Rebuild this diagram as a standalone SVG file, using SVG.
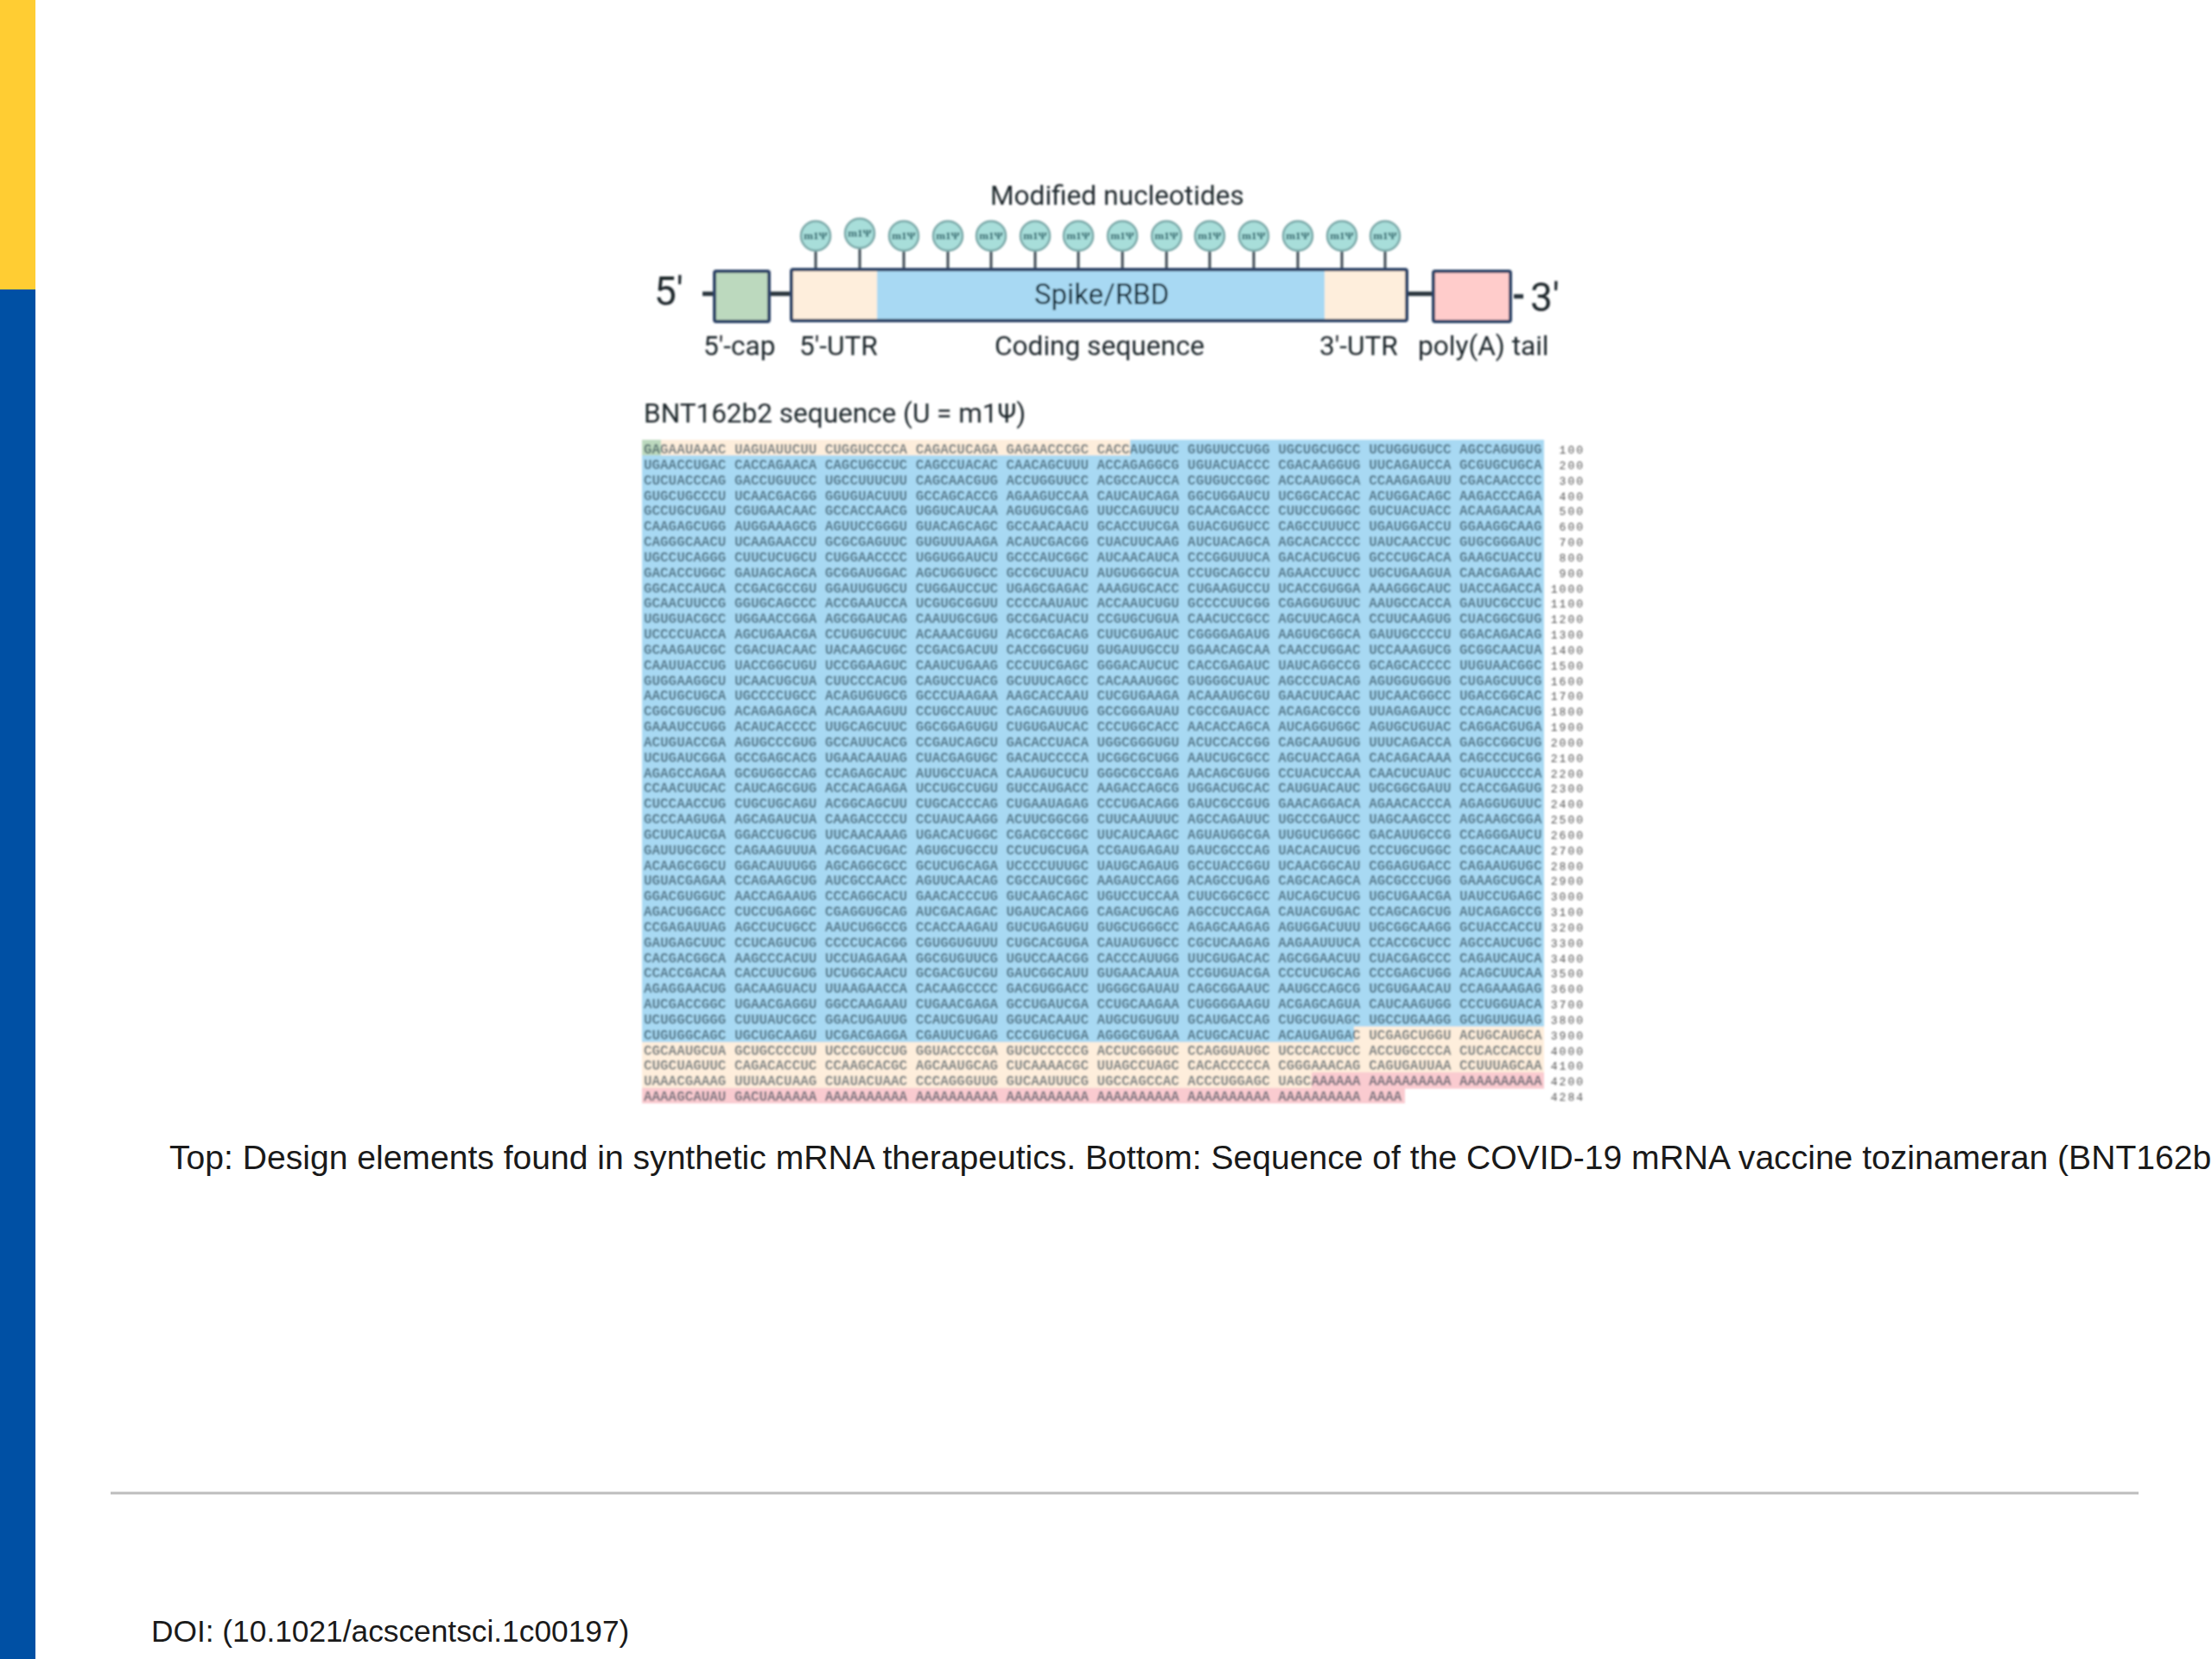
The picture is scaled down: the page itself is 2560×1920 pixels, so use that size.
<svg xmlns="http://www.w3.org/2000/svg" width="2560" height="1920" viewBox="0 0 2560 1920">
<defs><filter id="soft" x="-2%" y="-2%" width="104%" height="104%"><feGaussianBlur stdDeviation="0.85"/></filter><filter id="soft2" x="-2%" y="-2%" width="104%" height="104%"><feGaussianBlur stdDeviation="0.8"/></filter></defs>
<style>
.r{font-family:Roboto,"Liberation Sans",sans-serif;fill:#1f262c}
.l{font-size:31.6px}
.c{font-family:"Liberation Sans",Arial,sans-serif;fill:#1a1a1a;font-size:39.1px}
.s{font-family:"Liberation Mono","Courier New",monospace;font-size:15.9px;font-weight:bold;fill:#16303f;fill-opacity:.6}
.n{font-family:"Liberation Mono",monospace;font-size:13px;fill:#555;text-anchor:end;letter-spacing:2px}
.stem{stroke:#3c4a55;stroke-width:3}
.b{fill:#A8DEDA;stroke:#7aa8a8;stroke-width:2.5}
.m{font-family:"Liberation Serif",serif;font-size:13px;fill:#1f5a62;text-anchor:middle;font-weight:bold}
.box{stroke:#2f4468;stroke-width:4}
.w{stroke:#26303a;stroke-width:5}
</style>
<rect width="2560" height="1920" fill="#fff"/>
<rect id="bar-yellow" x="0" y="0" width="41" height="335" fill="#FFCD33"/>
<rect id="bar-blue" x="0" y="335" width="41" height="1585" fill="#0050A4"/>
<g id="design" filter="url(#soft2)">
<text class="r" x="1146" y="237" font-size="31.6">Modified nucleotides</text>
<g id="connectors">
<line class="w" x1="813" y1="340" x2="827" y2="340"/><line class="w" x1="890" y1="340" x2="916" y2="340"/><line class="w" x1="1628" y1="340" x2="1659" y2="340"/><line class="w" x1="1752" y1="343" x2="1763" y2="343"/>
<g class="stem"><line x1="944" y1="290" x2="944" y2="312"/><line x1="995" y1="287" x2="995" y2="312"/><line x1="1046" y1="290" x2="1046" y2="312"/><line x1="1097" y1="290" x2="1097" y2="312"/><line x1="1147" y1="290" x2="1147" y2="312"/><line x1="1198" y1="290" x2="1198" y2="312"/><line x1="1248" y1="290" x2="1248" y2="312"/><line x1="1299" y1="290" x2="1299" y2="312"/><line x1="1350" y1="290" x2="1350" y2="312"/><line x1="1400" y1="290" x2="1400" y2="312"/><line x1="1451" y1="290" x2="1451" y2="312"/><line x1="1502" y1="290" x2="1502" y2="312"/><line x1="1553" y1="290" x2="1553" y2="312"/><line x1="1603" y1="290" x2="1603" y2="312"/></g>
</g>
<g id="mods">
<g><circle class="b" cx="944" cy="273" r="17"/><text class="m" x="944" y="277">m1Ψ</text></g>
<g><circle class="b" cx="995" cy="270" r="17"/><text class="m" x="995" y="274">m1Ψ</text></g>
<g><circle class="b" cx="1046" cy="273" r="17"/><text class="m" x="1046" y="277">m1Ψ</text></g>
<g><circle class="b" cx="1097" cy="273" r="17"/><text class="m" x="1097" y="277">m1Ψ</text></g>
<g><circle class="b" cx="1147" cy="273" r="17"/><text class="m" x="1147" y="277">m1Ψ</text></g>
<g><circle class="b" cx="1198" cy="273" r="17"/><text class="m" x="1198" y="277">m1Ψ</text></g>
<g><circle class="b" cx="1248" cy="273" r="17"/><text class="m" x="1248" y="277">m1Ψ</text></g>
<g><circle class="b" cx="1299" cy="273" r="17"/><text class="m" x="1299" y="277">m1Ψ</text></g>
<g><circle class="b" cx="1350" cy="273" r="17"/><text class="m" x="1350" y="277">m1Ψ</text></g>
<g><circle class="b" cx="1400" cy="273" r="17"/><text class="m" x="1400" y="277">m1Ψ</text></g>
<g><circle class="b" cx="1451" cy="273" r="17"/><text class="m" x="1451" y="277">m1Ψ</text></g>
<g><circle class="b" cx="1502" cy="273" r="17"/><text class="m" x="1502" y="277">m1Ψ</text></g>
<g><circle class="b" cx="1553" cy="273" r="17"/><text class="m" x="1553" y="277">m1Ψ</text></g>
<g><circle class="b" cx="1603" cy="273" r="17"/><text class="m" x="1603" y="277">m1Ψ</text></g>
</g>
<g id="cap"><rect class="box" x="827" y="314" width="63" height="58" rx="2" fill="#BCD9BE"/></g>
<g id="tail"><rect class="box" x="1659" y="314" width="89" height="58" rx="2" fill="#FFCCCB"/></g>
<g id="mrna-bar">
<rect x="916" y="312" width="99" height="59" fill="#FEEEDC"/><rect x="1015" y="312" width="518" height="59" fill="#A8D9F3"/><rect x="1533" y="312" width="95" height="59" fill="#FEEEDC"/>
<rect class="box" x="916" y="312" width="712" height="59" rx="2" fill="none"/>
<text class="r" x="1197" y="352" font-size="33" style="fill:#06202f">Spike/RBD</text>
</g>
<text class="r" x="757" y="353" font-size="46">5'</text>
<text class="r" x="1771" y="360" font-size="46">3'</text>
<text class="r l" x="814" y="411">5'-cap</text>
<text class="r l" x="925" y="411">5'-UTR</text>
<text class="r l" x="1151" y="411">Coding sequence</text>
<text class="r l" x="1527" y="411">3'-UTR</text>
<text class="r l" x="1641" y="411">poly(A) tail</text>
<text class="r" x="745" y="489" font-size="31.5">BNT162b2 sequence (U = m1Ψ)</text>
</g>
<g id="sequence" filter="url(#soft)">
<rect x="743" y="509" width="565" height="18" fill="#FEEEDC"/><rect x="743" y="509" width="22" height="18" fill="#BCD9BE"/>
<rect x="1308" y="509" width="479" height="18" fill="#A8D9F3"/>
<rect x="743" y="527" width="1044" height="679" fill="#A8D9F3"/>
<rect x="743" y="1197" width="824" height="9" fill="#A8D9F3"/>
<rect x="1567" y="1188" width="220" height="18" fill="#FEEEDC"/>
<rect x="743" y="1206" width="1044" height="54" fill="#FEEEDC"/>
<rect x="1518" y="1241" width="269" height="19" fill="#FACBD0"/>
<rect x="743" y="1259" width="883" height="18" fill="#FACBD0"/>
<g class="s">
<text x="745" y="525">GAGAAUAAAC UAGUAUUCUU CUGGUCCCCA CAGACUCAGA GAGAACCCGC CACCAUGUUC GUGUUCCUGG UGCUGCUGCC UCUGGUGUCC AGCCAGUGUG</text>
<text x="745" y="543">UGAACCUGAC CACCAGAACA CAGCUGCCUC CAGCCUACAC CAACAGCUUU ACCAGAGGCG UGUACUACCC CGACAAGGUG UUCAGAUCCA GCGUGCUGCA</text>
<text x="745" y="561">CUCUACCCAG GACCUGUUCC UGCCUUUCUU CAGCAACGUG ACCUGGUUCC ACGCCAUCCA CGUGUCCGGC ACCAAUGGCA CCAAGAGAUU CGACAACCCC</text>
<text x="745" y="579">GUGCUGCCCU UCAACGACGG GGUGUACUUU GCCAGCACCG AGAAGUCCAA CAUCAUCAGA GGCUGGAUCU UCGGCACCAC ACUGGACAGC AAGACCCAGA</text>
<text x="745" y="596">GCCUGCUGAU CGUGAACAAC GCCACCAACG UGGUCAUCAA AGUGUGCGAG UUCCAGUUCU GCAACGACCC CUUCCUGGGC GUCUACUACC ACAAGAACAA</text>
<text x="745" y="614">CAAGAGCUGG AUGGAAAGCG AGUUCCGGGU GUACAGCAGC GCCAACAACU GCACCUUCGA GUACGUGUCC CAGCCUUUCC UGAUGGACCU GGAAGGCAAG</text>
<text x="745" y="632">CAGGGCAACU UCAAGAACCU GCGCGAGUUC GUGUUUAAGA ACAUCGACGG CUACUUCAAG AUCUACAGCA AGCACACCCC UAUCAACCUC GUGCGGGAUC</text>
<text x="745" y="650">UGCCUCAGGG CUUCUCUGCU CUGGAACCCC UGGUGGAUCU GCCCAUCGGC AUCAACAUCA CCCGGUUUCA GACACUGCUG GCCCUGCACA GAAGCUACCU</text>
<text x="745" y="668">GACACCUGGC GAUAGCAGCA GCGGAUGGAC AGCUGGUGCC GCCGCUUACU AUGUGGGCUA CCUGCAGCCU AGAACCUUCC UGCUGAAGUA CAACGAGAAC</text>
<text x="745" y="686">GGCACCAUCA CCGACGCCGU GGAUUGUGCU CUGGAUCCUC UGAGCGAGAC AAAGUGCACC CUGAAGUCCU UCACCGUGGA AAAGGGCAUC UACCAGACCA</text>
<text x="745" y="703">GCAACUUCCG GGUGCAGCCC ACCGAAUCCA UCGUGCGGUU CCCCAAUAUC ACCAAUCUGU GCCCCUUCGG CGAGGUGUUC AAUGCCACCA GAUUCGCCUC</text>
<text x="745" y="721">UGUGUACGCC UGGAACCGGA AGCGGAUCAG CAAUUGCGUG GCCGACUACU CCGUGCUGUA CAACUCCGCC AGCUUCAGCA CCUUCAAGUG CUACGGCGUG</text>
<text x="745" y="739">UCCCCUACCA AGCUGAACGA CCUGUGCUUC ACAAACGUGU ACGCCGACAG CUUCGUGAUC CGGGGAGAUG AAGUGCGGCA GAUUGCCCCU GGACAGACAG</text>
<text x="745" y="757">GCAAGAUCGC CGACUACAAC UACAAGCUGC CCGACGACUU CACCGGCUGU GUGAUUGCCU GGAACAGCAA CAACCUGGAC UCCAAAGUCG GCGGCAACUA</text>
<text x="745" y="775">CAAUUACCUG UACCGGCUGU UCCGGAAGUC CAAUCUGAAG CCCUUCGAGC GGGACAUCUC CACCGAGAUC UAUCAGGCCG GCAGCACCCC UUGUAACGGC</text>
<text x="745" y="793">GUGGAAGGCU UCAACUGCUA CUUCCCACUG CAGUCCUACG GCUUUCAGCC CACAAAUGGC GUGGGCUAUC AGCCCUACAG AGUGGUGGUG CUGAGCUUCG</text>
<text x="745" y="810">AACUGCUGCA UGCCCCUGCC ACAGUGUGCG GCCCUAAGAA AAGCACCAAU CUCGUGAAGA ACAAAUGCGU GAACUUCAAC UUCAACGGCC UGACCGGCAC</text>
<text x="745" y="828">CGGCGUGCUG ACAGAGAGCA ACAAGAAGUU CCUGCCAUUC CAGCAGUUUG GCCGGGAUAU CGCCGAUACC ACAGACGCCG UUAGAGAUCC CCAGACACUG</text>
<text x="745" y="846">GAAAUCCUGG ACAUCACCCC UUGCAGCUUC GGCGGAGUGU CUGUGAUCAC CCCUGGCACC AACACCAGCA AUCAGGUGGC AGUGCUGUAC CAGGACGUGA</text>
<text x="745" y="864">ACUGUACCGA AGUGCCCGUG GCCAUUCACG CCGAUCAGCU GACACCUACA UGGCGGGUGU ACUCCACCGG CAGCAAUGUG UUUCAGACCA GAGCCGGCUG</text>
<text x="745" y="882">UCUGAUCGGA GCCGAGCACG UGAACAAUAG CUACGAGUGC GACAUCCCCA UCGGCGCUGG AAUCUGCGCC AGCUACCAGA CACAGACAAA CAGCCCUCGG</text>
<text x="745" y="900">AGAGCCAGAA GCGUGGCCAG CCAGAGCAUC AUUGCCUACA CAAUGUCUCU GGGCGCCGAG AACAGCGUGG CCUACUCCAA CAACUCUAUC GCUAUCCCCA</text>
<text x="745" y="917">CCAACUUCAC CAUCAGCGUG ACCACAGAGA UCCUGCCUGU GUCCAUGACC AAGACCAGCG UGGACUGCAC CAUGUACAUC UGCGGCGAUU CCACCGAGUG</text>
<text x="745" y="935">CUCCAACCUG CUGCUGCAGU ACGGCAGCUU CUGCACCCAG CUGAAUAGAG CCCUGACAGG GAUCGCCGUG GAACAGGACA AGAACACCCA AGAGGUGUUC</text>
<text x="745" y="953">GCCCAAGUGA AGCAGAUCUA CAAGACCCCU CCUAUCAAGG ACUUCGGCGG CUUCAAUUUC AGCCAGAUUC UGCCCGAUCC UAGCAAGCCC AGCAAGCGGA</text>
<text x="745" y="971">GCUUCAUCGA GGACCUGCUG UUCAACAAAG UGACACUGGC CGACGCCGGC UUCAUCAAGC AGUAUGGCGA UUGUCUGGGC GACAUUGCCG CCAGGGAUCU</text>
<text x="745" y="989">GAUUUGCGCC CAGAAGUUUA ACGGACUGAC AGUGCUGCCU CCUCUGCUGA CCGAUGAGAU GAUCGCCCAG UACACAUCUG CCCUGCUGGC CGGCACAAUC</text>
<text x="745" y="1007">ACAAGCGGCU GGACAUUUGG AGCAGGCGCC GCUCUGCAGA UCCCCUUUGC UAUGCAGAUG GCCUACCGGU UCAACGGCAU CGGAGUGACC CAGAAUGUGC</text>
<text x="745" y="1024">UGUACGAGAA CCAGAAGCUG AUCGCCAACC AGUUCAACAG CGCCAUCGGC AAGAUCCAGG ACAGCCUGAG CAGCACAGCA AGCGCCCUGG GAAAGCUGCA</text>
<text x="745" y="1042">GGACGUGGUC AACCAGAAUG CCCAGGCACU GAACACCCUG GUCAAGCAGC UGUCCUCCAA CUUCGGCGCC AUCAGCUCUG UGCUGAACGA UAUCCUGAGC</text>
<text x="745" y="1060">AGACUGGACC CUCCUGAGGC CGAGGUGCAG AUCGACAGAC UGAUCACAGG CAGACUGCAG AGCCUCCAGA CAUACGUGAC CCAGCAGCUG AUCAGAGCCG</text>
<text x="745" y="1078">CCGAGAUUAG AGCCUCUGCC AAUCUGGCCG CCACCAAGAU GUCUGAGUGU GUGCUGGGCC AGAGCAAGAG AGUGGACUUU UGCGGCAAGG GCUACCACCU</text>
<text x="745" y="1096">GAUGAGCUUC CCUCAGUCUG CCCCUCACGG CGUGGUGUUU CUGCACGUGA CAUAUGUGCC CGCUCAAGAG AAGAAUUUCA CCACCGCUCC AGCCAUCUGC</text>
<text x="745" y="1114">CACGACGGCA AAGCCCACUU UCCUAGAGAA GGCGUGUUCG UGUCCAACGG CACCCAUUGG UUCGUGACAC AGCGGAACUU CUACGAGCCC CAGAUCAUCA</text>
<text x="745" y="1131">CCACCGACAA CACCUUCGUG UCUGGCAACU GCGACGUCGU GAUCGGCAUU GUGAACAAUA CCGUGUACGA CCCUCUGCAG CCCGAGCUGG ACAGCUUCAA</text>
<text x="745" y="1149">AGAGGAACUG GACAAGUACU UUAAGAACCA CACAAGCCCC GACGUGGACC UGGGCGAUAU CAGCGGAAUC AAUGCCAGCG UCGUGAACAU CCAGAAAGAG</text>
<text x="745" y="1167">AUCGACCGGC UGAACGAGGU GGCCAAGAAU CUGAACGAGA GCCUGAUCGA CCUGCAAGAA CUGGGGAAGU ACGAGCAGUA CAUCAAGUGG CCCUGGUACA</text>
<text x="745" y="1185">UCUGGCUGGG CUUUAUCGCC GGACUGAUUG CCAUCGUGAU GGUCACAAUC AUGCUGUGUU GCAUGACCAG CUGCUGUAGC UGCCUGAAGG GCUGUUGUAG</text>
<text x="745" y="1203">CUGUGGCAGC UGCUGCAAGU UCGACGAGGA CGAUUCUGAG CCCGUGCUGA AGGGCGUGAA ACUGCACUAC ACAUGAUGAC UCGAGCUGGU ACUGCAUGCA</text>
<text x="745" y="1221">CGCAAUGCUA GCUGCCCCUU UCCCGUCCUG GGUACCCCGA GUCUCCCCCG ACCUCGGGUC CCAGGUAUGC UCCCACCUCC ACCUGCCCCA CUCACCACCU</text>
<text x="745" y="1238">CUGCUAGUUC CAGACACCUC CCAAGCACGC AGCAAUGCAG CUCAAAACGC UUAGCCUAGC CACACCCCCA CGGGAAACAG CAGUGAUUAA CCUUUAGCAA</text>
<text x="745" y="1256">UAAACGAAAG UUUAACUAAG CUAUACUAAC CCCAGGGUUG GUCAAUUUCG UGCCAGCCAC ACCCUGGAGC UAGCAAAAAA AAAAAAAAAA AAAAAAAAAA</text>
<text x="745" y="1274">AAAAGCAUAU GACUAAAAAA AAAAAAAAAA AAAAAAAAAA AAAAAAAAAA AAAAAAAAAA AAAAAAAAAA AAAAAAAAAA AAAA</text>
</g>
<g class="n">
<text x="1834" y="525">100</text><text x="1834" y="543">200</text><text x="1834" y="561">300</text><text x="1834" y="579">400</text><text x="1834" y="596">500</text><text x="1834" y="614">600</text><text x="1834" y="632">700</text><text x="1834" y="650">800</text><text x="1834" y="668">900</text><text x="1834" y="686">1000</text><text x="1834" y="703">1100</text><text x="1834" y="721">1200</text><text x="1834" y="739">1300</text><text x="1834" y="757">1400</text><text x="1834" y="775">1500</text><text x="1834" y="793">1600</text><text x="1834" y="810">1700</text><text x="1834" y="828">1800</text><text x="1834" y="846">1900</text><text x="1834" y="864">2000</text><text x="1834" y="882">2100</text><text x="1834" y="900">2200</text><text x="1834" y="917">2300</text><text x="1834" y="935">2400</text><text x="1834" y="953">2500</text><text x="1834" y="971">2600</text><text x="1834" y="989">2700</text><text x="1834" y="1007">2800</text><text x="1834" y="1024">2900</text><text x="1834" y="1042">3000</text><text x="1834" y="1060">3100</text><text x="1834" y="1078">3200</text><text x="1834" y="1096">3300</text><text x="1834" y="1114">3400</text><text x="1834" y="1131">3500</text><text x="1834" y="1149">3600</text><text x="1834" y="1167">3700</text><text x="1834" y="1185">3800</text><text x="1834" y="1203">3900</text><text x="1834" y="1221">4000</text><text x="1834" y="1238">4100</text><text x="1834" y="1256">4200</text><text x="1834" y="1274">4284</text>
</g>
</g>
<text class="c" x="196" y="1353">Top: Design elements found in synthetic mRNA therapeutics. Bottom: Sequence of the COVID-19 mRNA vaccine tozinameran (BNT162b</text>
<line x1="128" y1="1728" x2="2475" y2="1728" stroke="#bdbdbd" stroke-width="3"/>
<text class="c" x="175" y="1900" style="font-size:35.3px">DOI: (10.1021/acscentsci.1c00197)</text>
</svg>
